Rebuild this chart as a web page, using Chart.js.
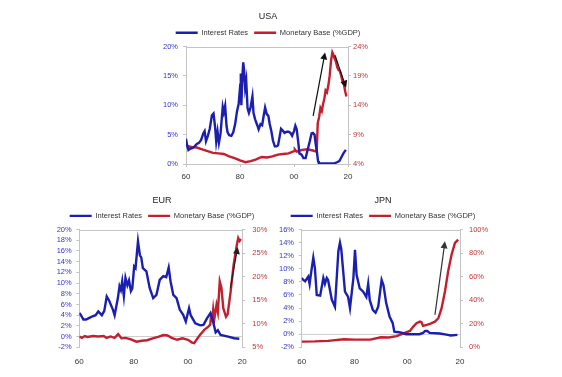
<!DOCTYPE html>
<html>
<head>
<meta charset="utf-8">
<script src="https://cdn.jsdelivr.net/npm/chart.js@4"></script>
<style>
body { margin: 0; background: #fff; width: 562px; height: 377px; position: relative; overflow: hidden; }
canvas { position: absolute; }
</style>
</head>
<body>
<canvas id="usa" width="280" height="190" style="left:140px;top:0"></canvas>
<canvas id="eur" width="276" height="187" style="left:0;top:190px"></canvas>
<canvas id="jpn" width="286" height="187" style="left:276px;top:190px"></canvas>
<script>
// USA
var usaRateYears = [1960.0, 1960.4, 1960.9, 1961.5, 1962.3, 1963.2, 1964.0, 1964.8, 1965.6, 1966.4, 1966.9, 1967.4, 1968.1, 1968.8, 1969.6, 1970.2, 1970.8, 1971.2, 1971.7, 1972.2, 1972.8, 1973.6, 1974.0, 1974.5, 1975.0, 1975.4, 1976.0, 1976.8, 1977.5, 1978.2, 1978.9, 1979.5, 1980.1, 1980.3, 1980.5, 1980.9, 1981.2, 1981.5, 1981.9, 1982.3, 1982.8, 1983.3, 1983.9, 1984.6, 1985.0, 1985.6, 1986.4, 1986.9, 1987.6, 1988.2, 1988.8, 1989.3, 1989.9, 1990.5, 1991.0, 1991.6, 1992.2, 1992.9, 1993.5, 1994.1, 1994.7, 1995.2, 1995.8, 1996.5, 1997.3, 1998.0, 1998.7, 1999.3, 2000.0, 2000.5, 2001.0, 2001.6, 2002.0, 2002.8, 2003.5, 2004.3, 2005.0, 2005.8, 2006.5, 2007.0, 2007.6, 2008.0, 2008.5, 2008.9, 2009.2, 2011.0, 2013.0, 2015.0, 2015.9, 2016.8, 2017.5, 2018.3, 2019.2];
var usaRates = [4.3, 3.2, 2.4, 2.6, 2.7, 3.0, 3.4, 3.6, 4.1, 5.2, 5.6, 3.9, 4.8, 6.0, 8.3, 8.6, 6.2, 3.8, 5.5, 3.6, 5.2, 9.7, 8.8, 9.9, 6.5, 5.4, 4.9, 4.8, 5.4, 6.8, 9.0, 10.2, 13.5, 15.4, 10.0, 15.0, 17.3, 16.0, 13.0, 14.2, 9.5, 8.7, 9.6, 11.5, 8.7, 7.6, 6.6, 5.9, 6.8, 6.6, 8.3, 9.6, 8.5, 8.2, 6.8, 5.6, 4.0, 3.0, 3.0, 3.2, 4.7, 6.0, 5.7, 5.3, 5.5, 5.5, 5.3, 4.8, 5.6, 6.5, 5.9, 3.6, 1.8, 1.6, 1.0, 1.0, 2.3, 3.8, 5.2, 5.3, 5.0, 3.5, 2.0, 0.5, 0.15, 0.1, 0.1, 0.1, 0.3, 0.5, 1.1, 1.8, 2.4];
var usaBaseYears = [1960, 1962, 1964, 1966, 1968, 1970, 1972, 1974, 1976, 1978, 1980, 1982, 1984, 1986, 1988, 1990, 1992, 1994, 1996, 1998, 2000.0, 2000.3, 2001.0, 2003, 2005, 2007, 2008.4, 2008.8, 2009.3, 2009.8, 2010.3, 2010.8, 2011.2, 2011.7, 2012.2, 2012.7, 2013.2, 2013.7, 2014.2, 2014.6, 2015.0, 2015.5, 2016.0, 2016.5, 2017.0, 2017.5, 2018.0, 2018.5, 2019.0, 2019.4];
var usaBase = [7.1, 6.9, 6.8, 6.5, 6.2, 5.9, 5.8, 5.7, 5.3, 5.0, 4.6, 4.3, 4.5, 4.8, 5.2, 5.1, 5.3, 5.6, 5.7, 5.8, 6.2, 6.5, 6.1, 6.4, 6.5, 6.3, 6.1, 11.0, 12.0, 13.5, 13.0, 14.3, 15.0, 16.5, 16.2, 17.3, 19.0, 21.5, 23.0, 22.6, 22.0, 21.5, 20.5, 20.0, 19.8, 19.0, 18.0, 17.5, 16.3, 15.5];

// EUR
var eurRateYears = [1960.0, 1960.5, 1961.5, 1962.5, 1963.7, 1964.9, 1966.0, 1967.0, 1968.3, 1969.2, 1970.1, 1971.0, 1972.4, 1973.0, 1974.2, 1974.8, 1975.3, 1975.8, 1976.4, 1977.0, 1977.7, 1978.3, 1979.0, 1979.5, 1980.2, 1980.7, 1981.6, 1982.3, 1982.8, 1983.4, 1984.7, 1985.9, 1987.2, 1988.4, 1989.6, 1990.9, 1992.0, 1992.9, 1993.6, 1994.6, 1995.8, 1997.0, 1998.2, 1999.2, 2000.4, 2001.0, 2002.7, 2004.5, 2005.7, 2007.0, 2008.3, 2008.9, 2010.2, 2011.0, 2012.0, 2014.8, 2017.0, 2018.9];
var eurRates = [4.4, 4.1, 3.2, 3.2, 3.5, 3.8, 4.0, 4.7, 4.0, 4.8, 7.5, 6.7, 5.0, 4.0, 7.2, 9.4, 8.7, 10.3, 7.6, 11.0, 9.6, 10.5, 8.5, 9.0, 13.1, 12.8, 17.8, 15.2, 14.8, 12.8, 12.2, 9.1, 7.2, 7.8, 10.6, 11.3, 11.1, 12.9, 10.3, 7.8, 7.2, 5.0, 4.1, 2.8, 5.3, 4.0, 2.5, 2.1, 2.2, 3.4, 4.4, 3.5, 0.8, 1.2, 0.3, 0.0, -0.3, -0.4];
var eurBaseYears = [1960, 1961, 1962, 1963, 1965, 1967, 1969, 1970, 1971.5, 1973, 1974.3, 1975.5, 1977, 1979, 1981, 1983, 1985, 1987, 1989, 1991, 1992.5, 1994, 1996, 1998, 2000, 2001.5, 2002.3, 2003, 2004.4, 2006, 2007.5, 2008.2, 2008.6, 2008.9, 2009.3, 2009.7, 2010.5, 2011.0, 2011.7, 2012.3, 2013.0, 2014.0, 2014.6, 2015.7, 2016.8, 2018.0, 2018.5, 2019.0, 2019.5];
var eurBase = [7.3, 7.0, 7.4, 7.2, 7.4, 7.3, 7.4, 7.0, 7.3, 7.0, 7.8, 6.9, 7.0, 6.7, 6.2, 6.4, 6.5, 6.9, 7.2, 7.6, 7.5, 7.0, 6.6, 6.9, 6.6, 6.0, 5.9, 6.5, 7.6, 8.7, 9.4, 9.8, 12.2, 10.5, 13.0, 11.0, 14.0, 12.5, 19.0, 17.7, 13.3, 11.5, 12.0, 16.8, 22.5, 26.8, 28.2, 27.6, 28.0];

// JPN
var jpnRateYears = [1960.0, 1960.6, 1961.3, 1962.5, 1963.0, 1963.6, 1964.4, 1965.0, 1965.7, 1967.0, 1968.2, 1968.8, 1969.5, 1970.0, 1971.4, 1972.6, 1973.9, 1974.5, 1975.0, 1976.4, 1977.6, 1978.3, 1979.6, 1980.2, 1980.8, 1982.0, 1983.3, 1984.5, 1985.2, 1985.8, 1987.0, 1988.0, 1989.0, 1990.3, 1991.0, 1992.0, 1993.3, 1994.5, 1995.1, 1996.9, 1998.2, 1999.5, 2002.0, 2004.6, 2006.0, 2006.8, 2007.6, 2008.5, 2012.3, 2015.4, 2016.5, 2019.0];
var jpnRates = [8.6, 8.3, 8.1, 8.8, 7.7, 9.5, 11.7, 10.1, 6.0, 5.9, 8.6, 7.7, 8.6, 8.3, 5.3, 4.2, 12.7, 14.0, 13.0, 6.5, 5.7, 4.0, 8.6, 12.9, 9.1, 7.0, 6.5, 5.7, 7.7, 5.2, 3.7, 3.3, 4.2, 8.3, 7.5, 4.8, 2.7, 1.7, 0.4, 0.3, 0.2, 0.0, 0.0, 0.0, 0.2, 0.5, 0.5, 0.2, 0.1, -0.1, -0.2, -0.1];
var jpnBaseYears = [1960, 1965, 1970, 1976, 1980, 1986, 1990, 1993, 1996, 1998.6, 2001.0, 2002.3, 2003.5, 2004.8, 2005.4, 2006.0, 2007.4, 2008.6, 2010.5, 2011.8, 2013.0, 2014.3, 2015.5, 2016.8, 2018.1, 2019.3];
var jpnBase = [4.8, 5.0, 5.5, 6.8, 6.5, 6.5, 8.5, 8.3, 9.5, 11.9, 13.9, 17.6, 20.5, 21.8, 21.3, 18.2, 19.0, 20.0, 21.8, 24.7, 33.0, 47.4, 64.5, 78.7, 88.7, 91.5];

var xTicks = [1960, 1980, 2000, 2020];
var seriesNames = ['Interest Rates', 'Monetary Base (%GDP)'];

var BLUE = '#1b1fb0', RED = '#c21f2f', AXIS = '#c4c4c4';
var FONT = 'Liberation Sans, Arial, sans-serif';

function pts(xs, ys) {
    return xs.map(function (x, i) { return { x: x, y: ys[i] }; });
}

// top frame line + black arrows, placed in data coordinates
var arrowPlugin = {
    id: 'arrows',
    afterDatasetsDraw: function (chart, args, opts) {
        var ctx = chart.ctx, a = chart.chartArea;
        ctx.save();
        ctx.strokeStyle = AXIS;
        ctx.lineWidth = 1;
        ctx.beginPath();
        ctx.moveTo(a.left, Math.round(a.top) + 0.5);
        ctx.lineTo(a.right, Math.round(a.top) + 0.5);
        ctx.stroke();
        (opts.list || []).forEach(function (ar) {
            var xs = chart.scales.x, ys = chart.scales.y1;
            var x0 = xs.getPixelForValue(ar.from[0]), y0 = ys.getPixelForValue(ar.from[1]);
            var x1 = xs.getPixelForValue(ar.to[0]), y1 = ys.getPixelForValue(ar.to[1]);
            var c = Math.cos(Math.atan2(y1 - y0, x1 - x0)), s = Math.sin(Math.atan2(y1 - y0, x1 - x0));
            ctx.strokeStyle = ar.color;
            ctx.fillStyle = ar.color;
            ctx.lineWidth = 1.2;
            ctx.beginPath();
            ctx.moveTo(x0, y0);
            ctx.lineTo(x1 - 4 * c, y1 - 4 * s);
            ctx.stroke();
            ctx.beginPath();
            ctx.moveTo(x1, y1);
            ctx.lineTo(x1 - 7 * c - 3.5 * s, y1 - 7 * s + 3.5 * c);
            ctx.lineTo(x1 - 7 * c + 3.5 * s, y1 - 7 * s - 3.5 * c);
            ctx.closePath();
            ctx.fill();
        });
        ctx.restore();
    }
};

function makeChart(id, p) {
    var zeroLine = function (c) {
        return p.zeroLine && c.tick && c.tick.value === 0 ? '#cfcfcf' : 'rgba(0,0,0,0)';
    };
    return new Chart(document.getElementById(id), {
        type: 'line',
        data: {
            datasets: [
                { label: seriesNames[0], data: pts(p.rateX, p.rate), yAxisID: 'y', borderColor: BLUE, backgroundColor: BLUE, borderWidth: 2.4, pointRadius: 0, tension: 0 },
                { label: seriesNames[1], data: pts(p.baseX, p.base), yAxisID: 'y1', borderColor: RED, backgroundColor: RED, borderWidth: 2.4, pointRadius: 0, tension: 0 }
            ]
        },
        options: {
            responsive: false,
            animation: false,
            devicePixelRatio: 1,
            layout: { padding: p.pad },
            plugins: {
                title: { display: true, text: p.title, color: '#222', font: { family: FONT, size: 9, weight: 'normal' }, padding: p.titlePad },
                legend: {
                    labels: { usePointStyle: true, pointStyle: 'line', pointStyleWidth: 22, boxHeight: 8, padding: 6, color: '#333', font: { family: FONT, size: 7.5 } }
                },
                tooltip: { enabled: false },
                arrows: { list: p.arrows }
            },
            scales: {
                x: {
                    type: 'linear', min: 1960, max: 2020,
                    afterBuildTicks: function (s) { s.ticks = xTicks.map(function (v) { return { value: v }; }); },
                    ticks: { color: '#333', font: { family: FONT, size: 8 }, padding: p.xPad, maxRotation: 0, callback: function (v) { return String(v).slice(2); } },
                    grid: { display: p.xBorder, drawOnChartArea: false, tickLength: 3, color: AXIS },
                    border: { display: p.xBorder, color: AXIS },
                    afterFit: function (s) { s.height = 20; }
                },
                y: {
                    position: 'left', min: p.yMin, max: p.yMax,
                    ticks: { stepSize: p.yStep, autoSkip: false, color: '#3535c4', font: { family: FONT, size: 7.5 }, padding: p.yPad, callback: function (v) { return v + '%'; } },
                    grid: { color: zeroLine, tickColor: AXIS, tickLength: 3 },
                    border: { color: AXIS },
                    afterFit: function (s) { s.width = p.yW; }
                },
                y1: {
                    position: 'right', min: p.y1Min, max: p.y1Max,
                    ticks: { stepSize: p.y1Step, autoSkip: false, color: '#c43535', font: { family: FONT, size: 7.5 }, padding: p.y1Pad, callback: function (v) { return v + '%'; } },
                    grid: { drawOnChartArea: false, tickColor: AXIS, tickLength: 3 },
                    border: { color: AXIS },
                    afterFit: function (s) { s.width = p.y1W; }
                }
            }
        },
        plugins: [arrowPlugin]
    });
}

makeChart('usa', {
    title: 'USA', rateX: usaRateYears, rate: usaRates, baseX: usaBaseYears, base: usaBase,
    yMin: 0, yMax: 20, yStep: 5, y1Min: 4, y1Max: 24, y1Step: 5,
    pad: { left: 10, right: 34, top: 0, bottom: 6 }, yW: 36, y1W: 38, yPad: 5, y1Pad: 2, xPad: 5,
    titlePad: { top: 11.6, bottom: 0.6 }, zeroLine: false, xBorder: true,
    arrows: [
        { from: [2007.1, 12.2], to: [2011.5, 23.0], color: '#111' },
        { from: [2015.2, 22.5], to: [2019.3, 17.0], color: '#111' }
    ]
});

makeChart('eur', {
    title: 'EUR', rateX: eurRateYears, rate: eurRates, baseX: eurBaseYears, base: eurBase,
    yMin: -2, yMax: 20, yStep: 2, y1Min: 5, y1Max: 30, y1Step: 5,
    pad: { left: 50, right: 2, top: 0, bottom: 9.7 }, yW: 29.3, y1W: 31.7, yPad: 4.6, y1Pad: 7, xPad: 7,
    titlePad: { top: 5.3, bottom: 0 }, zeroLine: true, xBorder: false,
    arrows: [
        { from: [2015.6, 17.5], to: [2018.3, 26.3], color: '#222' }
    ]
});

makeChart('jpn', {
    title: 'JPN', rateX: jpnRateYears, rate: jpnRates, baseX: jpnBaseYears, base: jpnBase,
    yMin: -2, yMax: 16, yStep: 2, y1Min: 0, y1Max: 100, y1Step: 20,
    pad: { left: 0, right: 72, top: 0, bottom: 9.7 }, yW: 25.7, y1W: 30, yPad: 4.7, y1Pad: 6, xPad: 7,
    titlePad: { top: 5.3, bottom: 0 }, zeroLine: true, xBorder: false,
    arrows: [
        { from: [2010.5, 27.5], to: [2014.3, 90], color: '#333' }
    ]
});
</script>
</body>
</html>
